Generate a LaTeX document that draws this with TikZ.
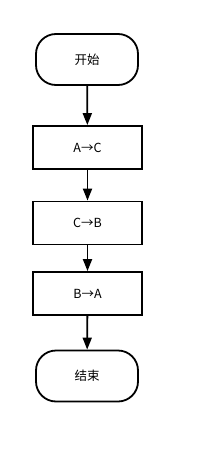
\documentclass[tikz,border=0pt]{standalone}
\usepackage{fontspec}
\setmainfont{Noto Sans CJK SC}
\usetikzlibrary{arrows.meta}
\begin{document}
\begin{tikzpicture}[x=1pt,y=-1pt,
  term/.style={draw, line width=1.8pt, rounded corners=20pt, minimum width=102pt, minimum height=51pt, inner sep=0pt, font=\fontsize{12.5}{14}\selectfont},
  proc/.style={draw, line width=1.8pt, minimum width=109pt, minimum height=43pt, inner sep=0pt, font=\fontsize{12.5}{14}\selectfont},
  conn/.style={line width=1.8pt, -{Triangle[length=12pt,width=9pt]}}]
\useasboundingbox (0,0) rectangle (203,463);
\fill[white] (0,0) rectangle (203,463);
\node[term] (start) at (87,59.5) {开始};
\node[proc] (p1) at (87.5,147.5) {A→C};
\node[proc] (p2) at (87.5,223) {C→B};
\node[proc] (p3) at (87.5,293.5) {B→A};
\node[term] (end) at (87,376) {结束};
\draw[conn] (start) -- (p1);
\draw[conn] (p1) -- (p2);
\draw[conn] (p2) -- (p3);
\draw[conn] (p3) -- (end);
\end{tikzpicture}
\end{document}
